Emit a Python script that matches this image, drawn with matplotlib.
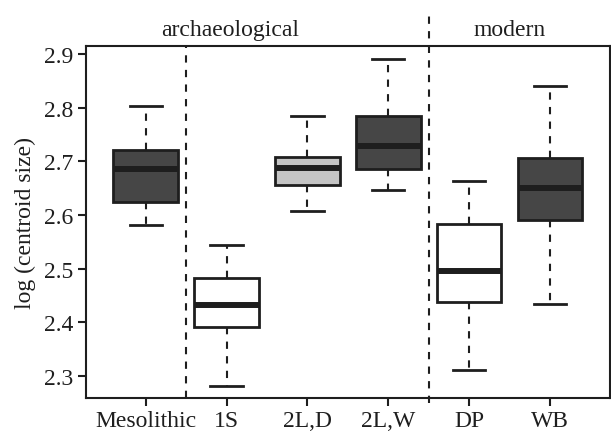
import matplotlib
matplotlib.use('Agg')
import matplotlib.pyplot as plt

# box summary values
groups = ['Mesolithic', '1S', '2L,D', '2L,W', 'DP', 'WB']
whislo = [2.582, 2.281, 2.608, 2.646, 2.312, 2.434]
q1 = [2.625, 2.392, 2.655, 2.686, 2.437, 2.591]
med = [2.685, 2.433, 2.688, 2.728, 2.496, 2.651]
q3 = [2.721, 2.482, 2.708, 2.784, 2.583, 2.707]
whishi = [2.803, 2.545, 2.785, 2.890, 2.663, 2.840]
fills = ['#464646', '#ffffff', '#c4c4c4', '#464646', '#ffffff', '#464646']

plt.rcParams['font.family'] = ['Liberation Serif', 'DejaVu Serif']

fig = plt.figure(figsize=(6.11, 4.35), dpi=100)
ax = fig.add_axes([0.1407, 0.0828, 0.998 - 0.1407, 0.892 - 0.0828])

stats = []
for i in range(len(groups)):
    stats.append({'label': groups[i], 'whislo': whislo[i], 'q1': q1[i], 'med': med[i],
                  'q3': q3[i], 'whishi': whishi[i], 'fliers': []})

ink = '#1e1e1e'
bp = ax.bxp(stats, positions=range(1, 7), widths=0.8, patch_artist=True, showfliers=False,
            boxprops=dict(linewidth=2.0, edgecolor=ink),
            medianprops=dict(linewidth=4.3, color=ink, solid_capstyle='butt'),
            whiskerprops=dict(linewidth=1.5, color=ink, linestyle=(0, (3.5, 3.5))),
            capprops=dict(linewidth=2.0, color=ink),
            capwidths=0.4)
for patch, c in zip(bp['boxes'], fills):
    patch.set_facecolor(c)

# group separators
ax.axvline(1.5, color=ink, linewidth=1.5, linestyle=(0, (3.5, 3.5)))
ax.plot([4.5, 4.5], [2.25, 2.975], color=ink, linewidth=1.5, linestyle=(0, (3.5, 3.5)),
        clip_on=False)

ax.set_xlim(0.26, 6.74)
ax.set_ylim(2.259, 2.915)
ax.set_yticks([2.3, 2.4, 2.5, 2.6, 2.7, 2.8, 2.9])
ax.set_xticks(range(1, 7))
ax.set_xticklabels(groups)
ax.tick_params(labelsize=17, length=6, width=1.5, color=ink, labelcolor=ink, pad=3)
for s in ax.spines.values():
    s.set_linewidth(1.5)
    s.set_color(ink)

ax.set_ylabel('log (centroid size)', fontsize=17, color=ink, labelpad=6)
ax.text(2.04, 2.945, 'archaeological', ha='center', va='center', fontsize=17, color=ink)
ax.text(5.5, 2.945, 'modern', ha='center', va='center', fontsize=17, color=ink)

fig.savefig('out.png', dpi=100)
